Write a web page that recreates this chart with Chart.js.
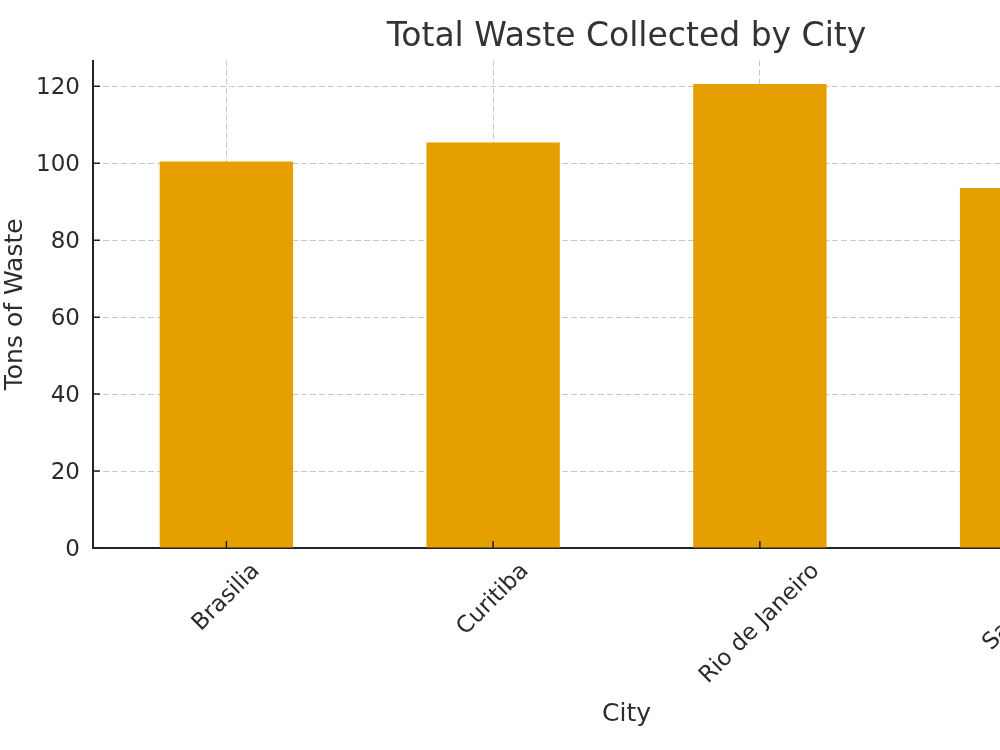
<!DOCTYPE html>
<html>
<head>
<meta charset="utf-8">
<script src="https://cdn.jsdelivr.net/npm/chart.js@4"></script>
<style>
    html, body { margin: 0; padding: 0; background: #fff; overflow: hidden; }
    #wrap { width: 1000px; height: 750px; overflow: hidden; }
</style>
</head>
<body>
<div id="wrap">
    <canvas id="wasteChart" width="1200" height="750"></canvas>
</div>
<script>
// Datos del gráfico
const cities = ['Brasilia', 'Curitiba', 'Rio de Janeiro', 'Sao Paulo'];
const tonsOfWaste = [100.5, 105.4, 120.6, 93.6];
const yTicks = [0, 20, 40, 60, 80, 100, 120];

const textColor = '#2b2b2b';
const axisColor = '#222222';
const gridColor = '#c8c8c8';
const barColor = '#E69F00';
const fontFamily = '"DejaVu Sans", sans-serif';
const tickFontSize = 23;

// Etiquetas del eje X giradas 45°, centradas bajo cada barra (como matplotlib)
const rotatedLabels = {
    id: 'rotatedLabels',
    afterDraw(chart) {
        const { ctx, scales: { x } } = chart;
        ctx.save();
        ctx.font = `${tickFontSize}px ${fontFamily}`;
        ctx.fillStyle = textColor;
        ctx.textAlign = 'center';
        ctx.textBaseline = 'middle';
        cities.forEach((city, i) => {
            const w = ctx.measureText(city).width;
            const half = (w + tickFontSize * 0.8) * Math.SQRT1_2 / 2;
            const cx = x.getPixelForValue(i);
            const cy = x.top + 13 + half;
            ctx.save();
            ctx.translate(cx, cy);
            ctx.rotate(-Math.PI / 4);
            ctx.fillText(city, 0, 0);
            ctx.restore();
        });
        ctx.restore();
    }
};

// Marcas de graduación hacia dentro
const innerTicks = {
    id: 'innerTicks',
    afterDraw(chart) {
        const { ctx, scales: { x, y } } = chart;
        const len = 7;
        ctx.save();
        ctx.strokeStyle = axisColor;
        ctx.lineWidth = 1.5;
        ctx.beginPath();
        cities.forEach((c, i) => {
            const px = x.getPixelForValue(i);
            ctx.moveTo(px, y.bottom);
            ctx.lineTo(px, y.bottom - len);
        });
        yTicks.forEach(v => {
            const py = y.getPixelForValue(v);
            ctx.moveTo(x.left, py);
            ctx.lineTo(x.left + len, py);
        });
        ctx.stroke();
        ctx.restore();
    }
};

const ctx = document.getElementById('wasteChart').getContext('2d');
new Chart(ctx, {
    type: 'bar',
    data: {
        labels: cities,
        datasets: [{
            label: 'Tons of Waste',
            data: tonsOfWaste,
            backgroundColor: barColor,
            borderWidth: 0,
            categoryPercentage: 1.0,
            barPercentage: 0.5
        }]
    },
    options: {
        responsive: false,
        animation: false,
        layout: {
            padding: { left: 0, right: 40, top: 0, bottom: 0 }
        },
        plugins: {
            legend: { display: false },
            tooltip: { enabled: false },
            title: {
                display: true,
                fullSize: false,
                text: 'Total Waste Collected by City',
                color: '#333333',
                font: { family: fontFamily, size: 33, weight: 'normal' },
                padding: { top: 18, bottom: 3 }
            }
        },
        scales: {
            x: {
                z: 1,
                afterFit: (axis) => { axis.height = 202; },
                grid: {
                    offset: false,
                    color: gridColor,
                    lineWidth: 1,
                    drawTicks: false
                },
                border: { display: true, color: axisColor, width: 2, dash: [6, 3] },
                ticks: { display: false },
                title: {
                    display: true,
                    text: 'City',
                    color: textColor,
                    font: { family: fontFamily, size: 25 },
                    padding: { top: 0, bottom: 21 }
                }
            },
            y: {
                z: 1,
                min: 0,
                max: 126.7,
                afterFit: (axis) => { axis.width = 93; },
                afterBuildTicks: (axis) => {
                    axis.ticks = yTicks.map(v => ({ value: v }));
                },
                grid: {
                    color: gridColor,
                    lineWidth: 1,
                    drawTicks: false
                },
                border: { display: true, color: axisColor, width: 2, dash: [6, 3] },
                ticks: {
                    color: textColor,
                    font: { family: fontFamily, size: tickFontSize },
                    padding: 13,
                    labelOffset: 2
                },
                title: {
                    display: true,
                    text: 'Tons of Waste',
                    color: textColor,
                    font: { family: fontFamily, size: 25 },
                    padding: { top: 0, bottom: 0 }
                }
            }
        }
    },
    plugins: [rotatedLabels, innerTicks]
});
</script>
</body>
</html>
